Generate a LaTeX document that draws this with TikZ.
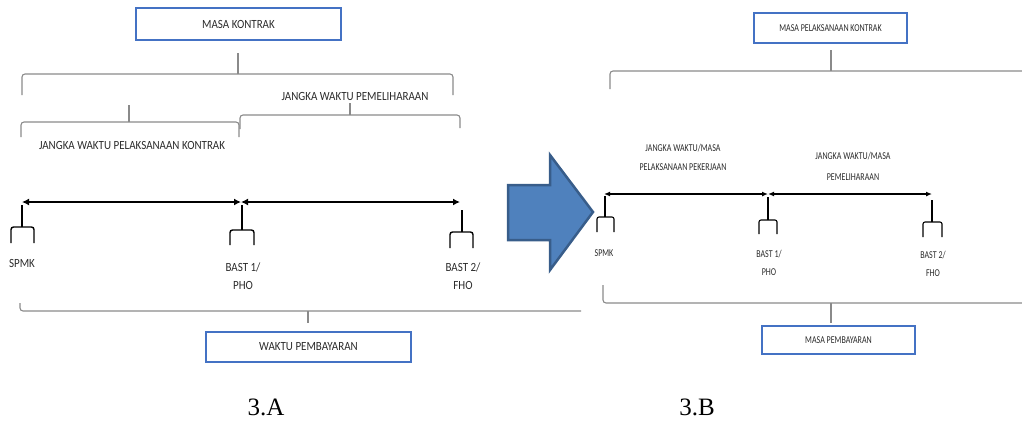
\documentclass[tikz,border=0pt]{standalone}
\usepackage{fontspec}
\usetikzlibrary{arrows.meta}
\newfontfamily\fA[FakeStretch=0.88]{Carlito}
\newfontfamily\fB[FakeStretch=0.76]{Carlito}
\newfontfamily\fC{Liberation Serif}
\definecolor{boxblue}{HTML}{4472C4}
\definecolor{arrfill}{HTML}{4F81BD}
\definecolor{arrline}{HTML}{385D8A}
\definecolor{bgray}{HTML}{8A8A8A}
\definecolor{txt}{HTML}{2B2B2B}
\begin{document}
\begin{tikzpicture}[x=1pt,y=-1pt,
 brc/.style={draw=bgray,line width=1.1pt,rounded corners=3pt},
 tk/.style={draw=black,line width=1.4pt,rounded corners=2.5pt},
 tkb/.style={draw=black,line width=1.1pt,rounded corners=2pt},
 tlA/.style={{Latex[length=7pt,width=7pt]}-{Latex[length=7pt,width=7pt]},line width=2.2pt},
 tlB/.style={{Latex[length=6pt,width=5pt]}-{Latex[length=6pt,width=5pt]},line width=1.5pt},
 la/.style={font=\fA\fontsize{12.5}{18}\selectfont,text=txt,inner sep=0pt,align=center},
 lb/.style={font=\fB\fontsize{10.5}{19}\selectfont,text=txt,inner sep=0pt,align=center},
 boxa/.style={draw=boxblue,line width=1.1pt,minimum width=205pt,minimum height=32pt,inner sep=0pt,la},
 boxb/.style={draw=boxblue,line width=1.1pt,minimum width=153pt,minimum height=29pt,inner sep=0pt,lb},
 captxt/.style={font=\fC\fontsize{25}{30}\selectfont,inner sep=0pt}]
\useasboundingbox (0,0) rectangle (1022,421);
% ---------- panel 3.A ----------
\node[boxa] (mk) at (238.5,24) {MASA KONTRAK};
\draw[brc] (22,95) |- (453,74) -- (453,95);
\draw[brc] (238,74) -- (238,53);
\draw[brc] (21,137) |- (239,122) -- (239,137);
\draw[brc] (129,122) -- (129,105);
\draw[brc] (240,129) |- (460,115) -- (460,128);
\draw[brc] (350,115) -- (350,103);
\node[la] (jwp) at (355,96) {JANGKA WAKTU PEMELIHARAAN};
\node[la] (jwk) at (132,145) {JANGKA WAKTU PELAKSANAAN KONTRAK};
\coordinate (A0) at (22,202);
\coordinate (A1) at (241,202);
\coordinate (A2) at (460,202);
\draw[tlA] (A0) -- (A1);
\draw[tlA] (A1) -- (A2);
\draw[tk] (22,205) -- (22,227);
\draw[tk] (11,243) |- (34,227) -- (34,243);
\draw[tk] (242,205) -- (242,230);
\draw[tk] (230,245) |- (254,230) -- (254,245);
\draw[tk] (462,210) -- (462,232);
\draw[tk] (450,248) |- (473,232) -- (473,248);
\node[la] (spmkA) at (22,263) {SPMK};
\node[la] (bast1A) at (243,276) {BAST 1/\\PHO};
\node[la] (bast2A) at (463,276) {BAST 2/\\FHO};
\draw[brc] (20,303) |- (581,311);
\draw[brc] (308,311) -- (308,323);
\node[boxa,minimum height=30pt] (wp) at (308.5,347) {WAKTU PEMBAYARAN};
% ---------- big arrow ----------
\draw[draw=arrline,fill=arrfill,line width=2.5pt,line join=miter]
  (508,185) -- (550,185) -- (550,155) -- (593,212) -- (550,270) -- (550,240) -- (508,240) -- cycle;
% ---------- panel 3.B ----------
\node[boxb,minimum height=30pt] (mpk) at (830.5,28) {MASA PELAKSANAAN KONTRAK};
\draw[brc] (610,89) |- (1022,71);
\draw[brc] (831,71) -- (831,50);
\node[lb] (jwm1) at (683,157.5) {JANGKA WAKTU/MASA\\PELAKSANAAN PEKERJAAN};
\node[lb,font=\fB\fontsize{10.5}{21}\selectfont] (jwm2) at (853,166.5) {JANGKA WAKTU/MASA\\PEMELIHARAAN};
\coordinate (B0) at (604,194);
\coordinate (B1) at (768,194);
\coordinate (B2) at (932,194);
\draw[tlB] (B0) -- (B1);
\draw[tlB] (B1) -- (B2);
\draw[tkb] (605,196) -- (605,217);
\draw[tkb] (597,232) |- (614,217) -- (614,232);
\draw[tkb] (768,197) -- (768,220);
\draw[tkb] (759,234) |- (777,220) -- (777,234);
\draw[tkb] (932,200) -- (932,222);
\draw[tkb] (923,237) |- (942,222) -- (942,237);
\node[lb] (spmkB) at (604,253) {SPMK};
\node[lb,font=\fB\fontsize{10.5}{18}\selectfont] (bast1B) at (769,263) {BAST 1/\\PHO};
\node[lb,font=\fB\fontsize{10.5}{18}\selectfont] (bast2B) at (933,264) {BAST 2/\\FHO};
\draw[brc] (603,285) |- (1022,303);
\draw[brc] (831,303) -- (831,323);
\node[boxb,minimum height=28pt] (mpb) at (838.5,340) {MASA PEMBAYARAN};
% ---------- captions ----------
\node[captxt] (capA) at (266,407) {3.A};
\node[captxt] (capB) at (697,407) {3.B};
\end{tikzpicture}
\end{document}
